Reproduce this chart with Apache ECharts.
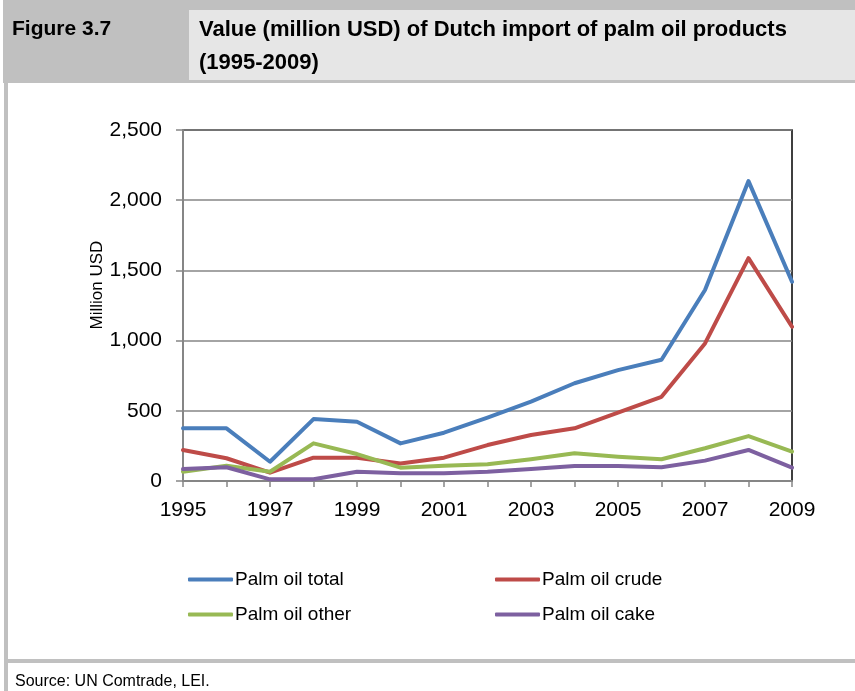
<!DOCTYPE html>
<html><head><meta charset="utf-8">
<script src="https://cdn.jsdelivr.net/npm/echarts@6/dist/echarts.min.js"></script>
<style>html,body{margin:0;padding:0;background:#fff}#c{width:855px;height:691px}</style>
</head><body><div id="c"></div>
<script>
const years = ['1995','1996','1997','1998','1999','2000','2001','2002','2003','2004','2005','2006','2007','2008','2009'];
const palmTotal = [375,375,137,441,422,268,344,451,565,696,790,864,1360,2136,1419];
const palmCrude = [221,162,59,166,166,125,166,256,328,375,487,600,980,1587,1099];
const palmOther = [66,109,66,268,192,95,109,119,155,197,173,155,233,320,209];
const palmCake = [85,98,12,12,66,55,55,66,85,107,107,98,145,221,95];
const yTicks = [0,500,1000,1500,2000,2500];

const FONT = '"Liberation Sans Narrow","Liberation Sans",Arial,sans-serif';
const chart = echarts.init(document.getElementById('c'), null, {renderer:'canvas'});
const colors = ['#4a7ebb','#be4b48','#98b954','#7d60a0'];
function ser(name, data, i){
  return {name, type:'line', data, symbol:'none', lineStyle:{width:4, color:colors[i], cap:'round', join:'round'}, itemStyle:{color:colors[i]}};
}
chart.setOption({
  animation:false,
  graphic:[
    {type:'rect', shape:{x:3,y:0,width:852,height:83}, style:{fill:'#c0c0c0'}, z:0},
    {type:'rect', shape:{x:189,y:10,width:666,height:70}, style:{fill:'#e6e6e6'}, z:1},
    {type:'rect', shape:{x:4,y:83,width:4,height:608}, style:{fill:'#c0c0c0'}, z:1},
    {type:'rect', shape:{x:4,y:659,width:851,height:4}, style:{fill:'#c0c0c0'}, z:1},
    {type:'text', x:12, y:19, style:{text:'Figure 3.7', font:'bold 21px '+FONT, fill:'#000'}, z:2},
    {type:'text', x:199, y:19, style:{text:'Value (million USD) of Dutch import of palm oil products', font:'bold 22px '+FONT, fill:'#000'}, z:2},
    {type:'text', x:199, y:52, style:{text:'(1995-2009)', font:'bold 22px '+FONT, fill:'#000'}, z:2},
    {type:'text', x:15, y:674, style:{text:'Source: UN Comtrade, LEI.', font:'16px '+FONT, fill:'#000'}, z:2},
    {type:'text', x:97, y:285, rotation:Math.PI/2, style:{text:'Million USD', font:'17px '+FONT, fill:'#000', align:'center', verticalAlign:'middle'}, z:2}
  ],
  grid:{left:183, right:63, top:130, bottom:210, show:true, borderColor:'#000', borderWidth:1.5},
  xAxis:{type:'category', data:years, boundaryGap:false,
    axisLine:{lineStyle:{color:'#868686', width:2}},
    axisTick:{show:true, interval:0, length:6, lineStyle:{color:'#868686', width:1.5}},
    axisLabel:{interval:1, color:'#000', fontSize:21, margin:19, fontFamily:FONT},
    splitLine:{show:false}},
  yAxis:{type:'value', min:0, max:2500, interval:500,
    axisLine:{show:true, lineStyle:{color:'#868686', width:2}},
    axisTick:{show:true, length:7, lineStyle:{color:'#868686', width:1.5}},
    axisLabel:{color:'#000', fontSize:21, margin:21, fontFamily:FONT,
      formatter:function(v){return yTicks.indexOf(v)>=0 ? v.toLocaleString('en-US') : '';}},
    splitLine:{show:true, lineStyle:{color:'#868686', width:1.5}}},
  legend:[
    {data:['Palm oil total','Palm oil other'], orient:'vertical', left:183, top:565, itemGap:16,
      icon:'roundRect', itemWidth:45, itemHeight:4, itemStyle:{borderWidth:0},
      textStyle:{fontSize:19, color:'#000', fontFamily:FONT, padding:[0,0,0,-3]}},
    {data:['Palm oil crude','Palm oil cake'], orient:'vertical', left:490, top:565, itemGap:16,
      icon:'roundRect', itemWidth:45, itemHeight:4, itemStyle:{borderWidth:0},
      textStyle:{fontSize:19, color:'#000', fontFamily:FONT, padding:[0,0,0,-3]}}
  ],
  series:[ser('Palm oil total',palmTotal,0), ser('Palm oil crude',palmCrude,1), ser('Palm oil other',palmOther,2), ser('Palm oil cake',palmCake,3)]
});
</script></body></html>
